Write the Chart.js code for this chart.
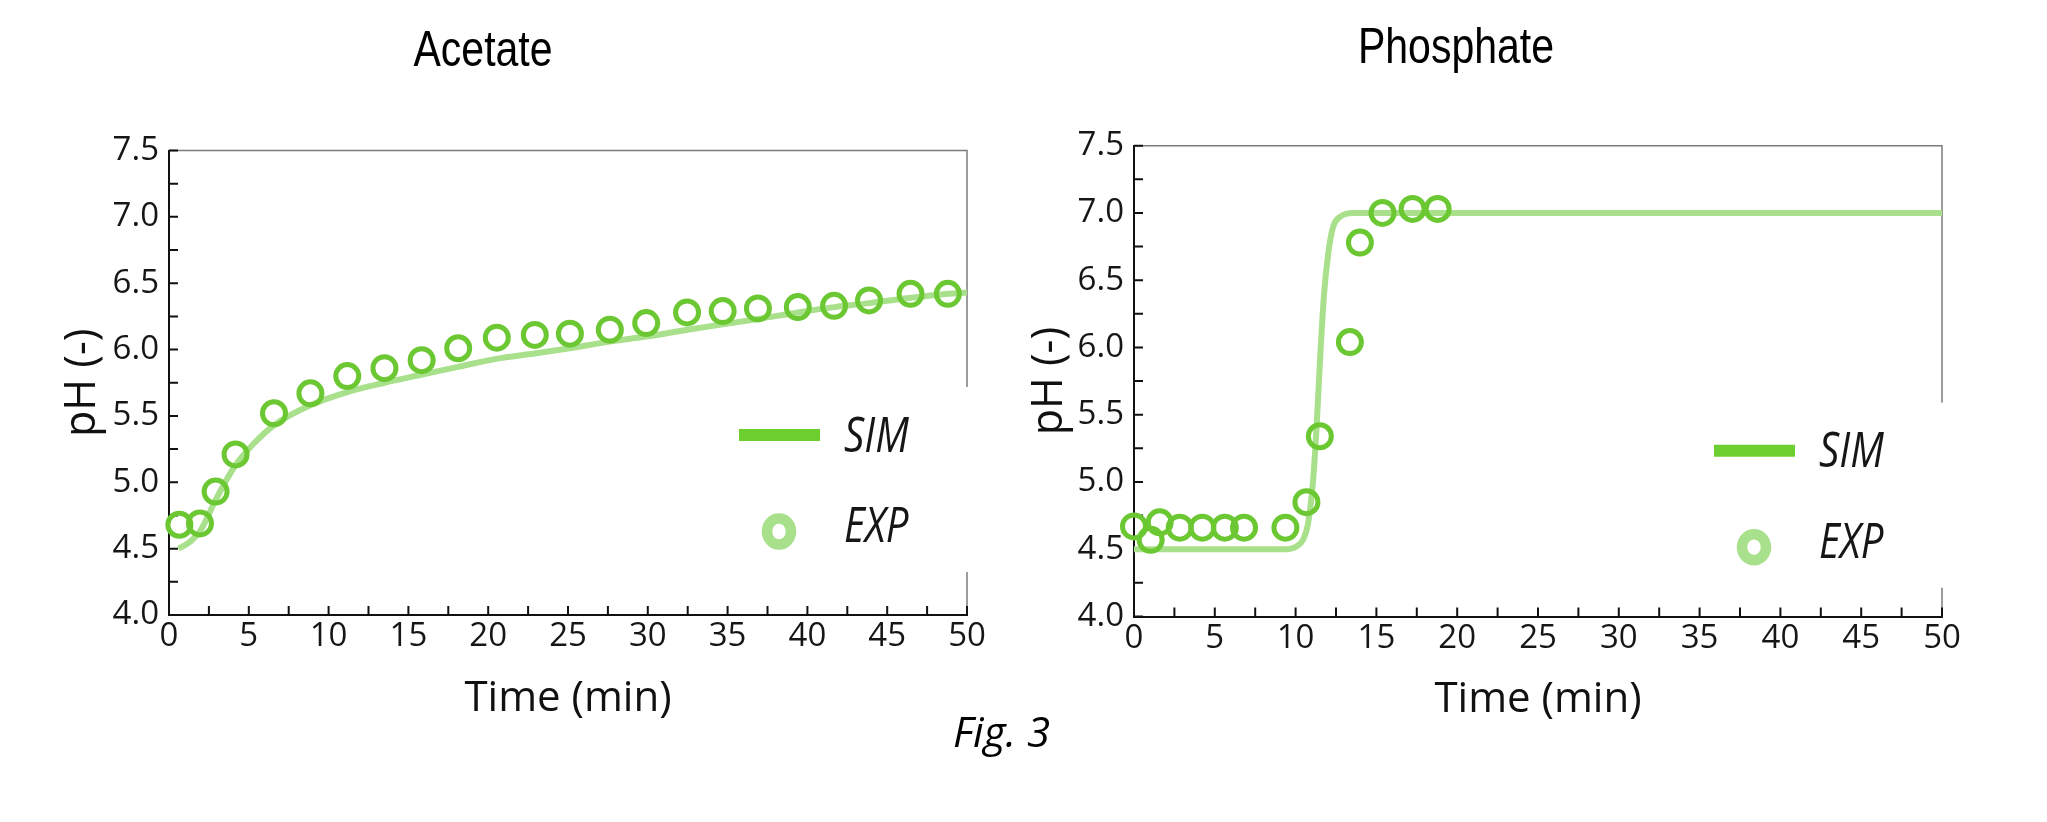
<!DOCTYPE html>
<html>
<head>
<meta charset="utf-8">
<title>Fig. 3</title>
<script src="https://cdn.jsdelivr.net/npm/chart.js@4.4.1/dist/chart.umd.min.js"></script>
<style>
  html, body { margin: 0; padding: 0; background: #fff; }
  body { width: 2047px; height: 822px; position: relative; overflow: hidden; }
  .box { position: absolute; top: 0; height: 822px; }
  #leftBox { left: 0; width: 1000px; }
  #rightBox { left: 1000px; width: 1047px; }
  .title {
    position: absolute; width: 300px; text-align: center; white-space: nowrap;
    font-family: "Liberation Sans", Arial, sans-serif;
    font-size: 50px; line-height: 50px; color: #000;
    transform: scaleX(0.82); transform-origin: 50% 50%;
  }
  #fig {
    position: absolute; left: 953px; top: 710px; white-space: nowrap;
    font-family: "Open Sans", sans-serif; font-style: italic;
    font-size: 42px; line-height: 42px; color: #000;
  }
</style>
</head>
<body>
<div class="box" id="leftBox"><canvas id="acetate"></canvas></div>
<div class="box" id="rightBox"><canvas id="phosphate"></canvas></div>
<div class="title" style="left:333px; top:24px">Acetate</div>
<div class="title" style="left:1306px; top:21px">Phosphate</div>
<div id="fig">Fig. 3</div>

<script>
// acetate: simulated curve and measured points
const acetateSimTime = [0.6, 1.3, 1.94, 2.98, 4.17, 5.3, 6.58, 8.85, 11.17, 13.5, 15.8, 18.1, 20.5,
                        22.9, 25.1, 27.6, 30.0, 32.5, 34.7, 36.9, 39.4, 41.7, 43.9, 46.5, 48.8, 50];
const acetateSimPH = [4.50, 4.55, 4.63, 4.88, 5.13, 5.29, 5.43, 5.58, 5.68, 5.75, 5.81, 5.87, 5.93,
                      5.97, 6.01, 6.06, 6.10, 6.15, 6.19, 6.23, 6.28, 6.32, 6.35, 6.39, 6.42, 6.43];
const acetateExpTime = [0.65, 1.94, 2.92, 4.17, 6.58, 8.86, 11.17, 13.5, 15.83, 18.12, 20.54, 22.92,
                        25.12, 27.62, 29.9, 32.46, 34.69, 36.9, 39.4, 41.67, 43.86, 46.46, 48.8];
const acetateExpPH = [4.68, 4.69, 4.93, 5.21, 5.52, 5.67, 5.80, 5.86, 5.92, 6.01, 6.09, 6.11,
                      6.12, 6.15, 6.20, 6.28, 6.29, 6.31, 6.32, 6.33, 6.37, 6.42, 6.42];

// phosphate
const phosphateSimTime = [0, 9.4, 10.05, 10.46, 10.77, 11.08, 11.29, 11.5, 11.75, 12.02, 12.33, 12.74, 13.56, 50];
const phosphateSimPH = [4.5, 4.5, 4.52, 4.57, 4.69, 5.01, 5.39, 5.88, 6.38, 6.70, 6.90, 6.97, 7.0, 7.0];
const phosphateExpTime = [0, 1.03, 1.59, 2.83, 4.23, 5.62, 6.81, 9.37, 10.67, 11.5, 13.36, 13.98, 15.38, 17.24, 18.79];
const phosphateExpPH = [4.67, 4.57, 4.70, 4.66, 4.66, 4.66, 4.66, 4.66, 4.85, 5.34, 6.04, 6.78, 7.00, 7.03, 7.03];

const timeTicks = [0, 5, 10, 15, 20, 25, 30, 35, 40, 45, 50];
const phTicks = [4.0, 4.5, 5.0, 5.5, 6.0, 6.5, 7.0, 7.5];

const ringGreen = '#6cc832';
const simGreen = '#a9e08c';
const legendLineGreen = '#6dcf2f';
const tickFont = '"Open Sans", "Noto Sans", sans-serif';
const labelFont = '"Open Sans", "Noto Sans", sans-serif';

const toPoints = (xs, ys) => xs.map((x, i) => ({ x: x, y: ys[i] }));

// grey top/right frame plus short inward ticks (major + minor)
const frameTicks = {
    id: 'frameTicks',
    beforeDatasetsDraw(chart) {
        const { ctx, chartArea: a, scales: { x, y } } = chart;
        ctx.save();
        ctx.strokeStyle = '#7c7c7c';
        ctx.lineWidth = 1.5;
        ctx.beginPath();
        ctx.moveTo(a.left, a.top);
        ctx.lineTo(a.right, a.top);
        ctx.lineTo(a.right, a.bottom);
        ctx.stroke();

        ctx.strokeStyle = '#111';
        ctx.lineWidth = 2;
        ctx.beginPath();
        for (let v = x.min; v <= x.max + 1e-9; v += 2.5) {
            const px = x.getPixelForValue(v);
            ctx.moveTo(px, a.bottom);
            ctx.lineTo(px, a.bottom - 9);
        }
        for (let v = y.min; v <= y.max + 1e-9; v += 0.25) {
            const py = y.getPixelForValue(v);
            ctx.moveTo(a.left, py);
            ctx.lineTo(a.left + 9, py);
        }
        ctx.stroke();
        ctx.restore();
    }
};

// legend box sitting over the right border, like the original
const boxLegend = {
    id: 'boxLegend',
    afterDatasetsDraw(chart, args, opts) {
        const { ctx, chartArea: a } = chart;
        const r = a.right;
        const top = a.top + opts.rowY;
        const sim = chart.data.datasets.find(d => d.showLine);
        const exp = chart.data.datasets.find(d => !d.showLine);

        ctx.save();
        ctx.fillStyle = '#fff';
        ctx.fillRect(r - 250, top - 48, 256, 185);

        ctx.strokeStyle = legendLineGreen;
        ctx.lineWidth = 12;
        ctx.beginPath();
        ctx.moveTo(r - 228, top);
        ctx.lineTo(r - 147, top);
        ctx.stroke();

        ctx.strokeStyle = simGreen;
        ctx.lineWidth = 10.5;
        ctx.beginPath();
        ctx.ellipse(r - 188, top + 96.5, 12, 13, 0, 0, Math.PI * 2);
        ctx.stroke();

        ctx.fillStyle = '#161616';
        ctx.font = 'italic 49px "Open Sans", "Noto Sans", sans-serif';
        ctx.textBaseline = 'alphabetic';
        [[sim.label, top + 16.5], [exp.label, top + 107]].forEach(([txt, yb]) => {
            ctx.save();
            ctx.translate(r - 123, yb);
            ctx.scale(0.82, 1);
            ctx.fillText(txt, 0, 0);
            ctx.restore();
        });
        ctx.restore();
    }
};

function makeChart(id, simT, simY, expT, expY, geo) {
    return new Chart(document.getElementById(id), {
        type: 'scatter',
        data: {
            datasets: [
                {
                    label: 'EXP',
                    data: toPoints(expT, expY),
                    showLine: false,
                    pointStyle: 'circle',
                    pointRadius: 11.5,
                    pointHoverRadius: 11.5,
                    pointBorderWidth: 5,
                    borderColor: ringGreen,
                    backgroundColor: 'rgba(0,0,0,0)',
                    clip: false,
                    order: 0
                },
                {
                    label: 'SIM',
                    data: toPoints(simT, simY),
                    showLine: true,
                    borderColor: simGreen,
                    borderWidth: 6,
                    pointRadius: 0,
                    cubicInterpolationMode: 'monotone',
                    order: 1
                }
            ]
        },
        options: {
            responsive: true,
            maintainAspectRatio: false,
            animation: false,
            layout: { padding: geo.padding },
            plugins: {
                legend: { display: false },
                tooltip: { enabled: false },
                boxLegend: { rowY: geo.legendRow }
            },
            scales: {
                x: {
                    type: 'linear',
                    min: 0,
                    max: 50,
                    border: { display: true, color: '#111', width: 2 },
                    grid: { display: false, drawTicks: false },
                    afterBuildTicks: s => { s.ticks = timeTicks.map(v => ({ value: v })); },
                    ticks: {
                        padding: 2,
                        color: '#161616',
                        maxRotation: 0,
                        autoSkip: false,
                        font: { family: tickFont, size: 33 }
                    },
                    title: {
                        display: true,
                        text: 'Time (min)',
                        color: '#111',
                        font: { family: labelFont, size: 42 },
                        padding: { top: 0, bottom: 31 }
                    },
                    afterFit: s => { s.height = 140; }
                },
                y: {
                    type: 'linear',
                    min: 4,
                    max: 7.5,
                    border: { display: true, color: '#111', width: 2 },
                    grid: { display: false, drawTicks: false },
                    afterBuildTicks: s => { s.ticks = phTicks.map(v => ({ value: v })); },
                    ticks: {
                        padding: 10,
                        color: '#161616',
                        autoSkip: false,
                        font: { family: tickFont, size: 33 },
                        callback: v => Number(v).toFixed(1)
                    },
                    title: {
                        display: true,
                        text: 'pH (-)',
                        color: '#111',
                        font: { family: labelFont, size: 43 },
                        padding: { top: geo.yTitlePad, bottom: 0 }
                    },
                    afterFit: s => { s.width = geo.yWidth; }
                }
            }
        },
        plugins: [frameTicks, boxLegend]
    });
}

makeChart('acetate', acetateSimTime, acetateSimPH, acetateExpTime, acetateExpPH, {
    padding: { left: 0, right: 33, top: 150.5, bottom: 67 },
    yWidth: 169,
    yTitlePad: 57,
    legendRow: 284.5
});

makeChart('phosphate', phosphateSimTime, phosphateSimPH, phosphateExpTime, phosphateExpPH, {
    padding: { left: 0, right: 105, top: 145.7, bottom: 65.5 },
    yWidth: 134,
    yTitlePad: 24,
    legendRow: 305
});
</script>
</body>
</html>
